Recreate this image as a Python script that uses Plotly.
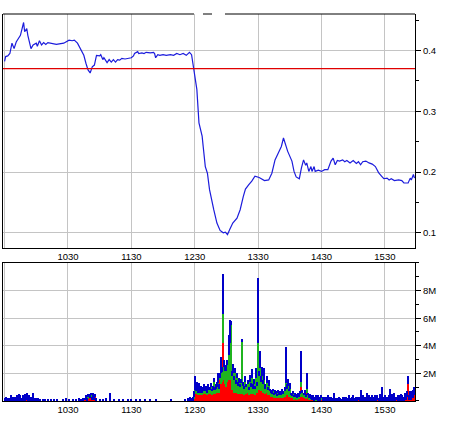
import pandas as pd
import plotly.graph_objects as go

SESSION_DATE = "2009-03-12"
OPEN_TIME = "09:30"

# ---- price (minutes after the open, price) ----
PRICE_MIN = [0, 1, 3, 5, 7, 9, 11, 13, 15, 18, 19, 21, 22, 25, 27, 30, 31, 33, 35, 37,
             39, 41, 45, 49, 56, 59, 61, 64, 66, 69, 71, 75, 77, 79, 81, 83, 85, 87, 90, 91,
             93, 94, 97, 99, 101, 103, 105, 107, 109, 111, 114, 117, 120, 122, 123, 126, 127, 130, 132, 134,
             138, 141, 142, 143, 145, 147, 150, 153, 157, 160, 163, 166, 169, 172, 175, 177, 179, 182, 184, 187,
             188, 190, 192, 194, 198, 201, 204, 207, 209, 211, 213, 216, 220, 223, 226, 228, 231, 234, 237, 241,
             246, 250, 253, 256, 259, 262, 264, 266, 268, 272, 274, 276, 279, 281, 283, 285, 286, 288, 290, 291,
             293, 294, 297, 300, 303, 306, 309, 311, 313, 315, 317, 320, 322, 324, 327, 330, 333, 335, 337, 339,
             342, 345, 348, 351, 354, 357, 359, 362, 364, 366, 369, 373, 376, 378, 382, 384, 385, 387, 388]
PRICE = [0.382, 0.390, 0.391, 0.395, 0.412, 0.403, 0.414, 0.420, 0.425, 0.446, 0.431, 0.436, 0.425, 0.403, 0.409, 0.412, 0.407, 0.416, 0.409, 0.413,
         0.410, 0.413, 0.412, 0.410, 0.412, 0.415, 0.417, 0.416, 0.417, 0.412, 0.406, 0.392, 0.379, 0.368, 0.363, 0.373, 0.376, 0.392, 0.391, 0.393,
         0.385, 0.388, 0.380, 0.385, 0.381, 0.385, 0.381, 0.385, 0.384, 0.387, 0.386, 0.387, 0.388, 0.391, 0.395, 0.398, 0.395, 0.396, 0.395, 0.397,
         0.396, 0.397, 0.395, 0.388, 0.393, 0.392, 0.393, 0.392, 0.393, 0.392, 0.395, 0.393, 0.395, 0.392, 0.397, 0.393, 0.371, 0.336, 0.281, 0.259,
         0.242, 0.209, 0.198, 0.171, 0.138, 0.116, 0.104, 0.100, 0.101, 0.097, 0.105, 0.116, 0.124, 0.138, 0.160, 0.172, 0.179, 0.185, 0.193, 0.191,
         0.186, 0.187, 0.198, 0.220, 0.231, 0.242, 0.256, 0.245, 0.234, 0.218, 0.201, 0.192, 0.189, 0.207, 0.220, 0.211, 0.215, 0.201, 0.209, 0.201,
         0.209, 0.201, 0.203, 0.201, 0.204, 0.204, 0.218, 0.223, 0.212, 0.219, 0.218, 0.220, 0.217, 0.219, 0.215, 0.219, 0.214, 0.217, 0.212, 0.217,
         0.218, 0.215, 0.213, 0.209, 0.199, 0.193, 0.189, 0.190, 0.187, 0.189, 0.186, 0.187, 0.186, 0.182, 0.182, 0.190, 0.187, 0.196, 0.190]
PREV_CLOSE = 0.37

# ---- volume, in units of 100k shares ----
VOL_UNIT = 100000
# morning: sparse minutes
AM_MIN = [0, 1, 2, 3, 4, 5, 6, 7, 8, 9, 10, 11, 12, 13, 14, 15, 16, 17, 18, 19, 20, 21, 22, 23, 24, 25, 26, 27, 28, 29, 30, 31, 32,
          34, 36, 38, 41, 44, 47, 50, 55, 58, 61, 65, 68, 70, 72, 74,
          76, 77, 78, 79, 80, 81, 82, 83, 84, 85, 86, 87,
          90, 93, 96, 100, 104, 108, 112, 117, 120, 124, 128, 133, 138, 143, 158, 171, 174, 176, 177, 178]
AM_RED = [0, 0, 0, 1, 0, 0, 0, 0, 1, 0, 0, 0, 1, 0, 0, 1, 0, 0, 1, 0, 1, 1, 0, 0, 0, 0, 0, 1, 0, 0, 0, 0, 0,
          0, 0, 0, 0, 0, 0, 0, 0, 0, 0, 0, 0, 0, 0, 0,
          1, 2, 0, 2, 3, 2, 3, 1, 2, 1, 3, 0,
          0, 0, 0, 0, 0, 0, 0, 0, 0, 0, 0, 0, 0, 0, 0, 0, 0, 0, 0, 0]
AM_GREEN = [0, 0, 0, 0, 0, 0, 0, 0, 0, 0, 0, 0, 0, 0, 0, 0, 0, 0, 0, 0, 0, 0, 0, 0, 0, 0, 0, 0, 0, 0, 0, 0, 0,
            0, 0, 0, 0, 0, 0, 0, 0, 0, 0, 0, 0, 0, 0, 0,
            0, 0, 0, 1, 0, 0, 1, 0, 0, 0, 0, 0,
            0, 0, 0, 0, 0, 0, 0, 0, 0, 0, 0, 0, 0, 0, 0, 0, 0, 0, 0, 0]
AM_BLUE = [2, 3, 2, 1, 2, 1, 4, 3, 2, 3, 2, 3, 3, 4, 5, 3, 2, 4, 3, 5, 3, 5, 3, 4, 2, 3, 2, 5, 2, 1, 2, 1, 2,
           1, 1, 1, 1, 1, 1, 1, 1, 2, 1, 1, 1, 2, 1, 2,
           1, 2, 2, 2, 1, 3, 2, 2, 4, 3, 2, 2,
           1, 1, 2, 6, 1, 1, 1, 1, 1, 1, 1, 1, 1, 1, 1, 1, 2, 3, 2, 3]
# afternoon: every minute from PM_START
PM_START = 179
PM_RED = [2, 5, 5, 6, 5, 6, 5, 6, 4, 5,
          5, 5, 6, 4, 5, 5, 6, 4, 5, 6,
          5, 6, 6, 7, 6, 15, 12, 14, 42, 15,
          12, 10, 14, 15, 18, 15, 8, 8, 6, 8,
          6, 7, 5, 6, 5, 5, 8, 5, 4, 6,
          5, 6, 4, 6, 5, 7, 5, 6, 4, 8,
          6, 12, 8, 10, 7, 8, 6, 7, 5, 6,
          4, 5, 4, 3, 3, 3, 2, 3, 2, 2,
          3, 2, 2, 2, 3, 2, 3, 5, 4, 5,
          3, 4, 2, 2, 2, 1, 2, 2, 1, 2,
          2, 3, 10, 3, 2, 3, 2, 6, 2, 1,
          2, 1, 1, 1, 0, 1, 0, 1, 0, 1,
          0, 1, 0, 1, 0, 1, 0, 1, 0, 0,
          1, 0, 1, 0, 0, 1, 0, 0, 1, 0,
          0, 1, 0, 0, 1, 0, 0, 1, 0, 0,
          1, 0, 0, 1, 0, 0, 1, 0, 1, 0,
          1, 0, 1, 0, 1, 0, 1, 0, 1, 0,
          1, 0, 1, 0, 1, 0, 1, 0, 1, 0,
          1, 0, 1, 0, 1, 0, 2, 0, 1, 0,
          1, 0, 1, 0, 1, 0, 2, 0, 1, 0,
          2, 1, 3, 12, 1, 2, 1, 3, 2, 4]
PM_GREEN = [1, 3, 2, 2, 1, 3, 1, 2, 2, 2,
            4, 2, 2, 2, 3, 3, 4, 3, 3, 8,
            3, 3, 4, 6, 3, 2, 8, 7, 21, 10,
            10, 12, 12, 18, 24, 40, 10, 12, 9, 12,
            6, 10, 6, 7, 5, 8, 35, 6, 5, 8,
            5, 6, 4, 8, 5, 10, 4, 6, 5, 9,
            5, 30, 10, 14, 7, 10, 6, 8, 4, 7,
            4, 6, 3, 3, 2, 4, 2, 3, 3, 2,
            3, 2, 3, 2, 3, 3, 4, 8, 5, 6,
            4, 5, 2, 2, 3, 2, 2, 1, 1, 2,
            1, 2, 4, 3, 2, 2, 1, 3, 2, 1,
            1, 1, 0, 1, 0, 0, 1, 0, 0, 0,
            0, 1, 0, 0, 0, 0, 0, 0, 0, 0,
            0, 0, 0, 0, 0, 0, 0, 0, 0, 0,
            0, 0, 0, 0, 0, 0, 0, 0, 0, 0,
            0, 0, 0, 0, 0, 0, 0, 0, 0, 0,
            0, 0, 0, 0, 0, 0, 0, 0, 0, 0,
            0, 0, 1, 0, 0, 0, 0, 0, 0, 0,
            0, 0, 0, 0, 0, 0, 0, 0, 0, 0,
            0, 0, 0, 0, 0, 0, 0, 0, 0, 0,
            0, 0, 0, 0, 0, 0, 0, 0, 0, 0]
PM_BLUE = [4, 10, 5, 6, 4, 4, 3, 3, 2, 3,
           3, 2, 3, 2, 4, 2, 3, 2, 3, 3,
           2, 3, 4, 7, 3, 3, 12, 4, 29, 5,
           3, 4, 4, 15, 17, 3, 4, 7, 3, 4,
           3, 3, 3, 4, 2, 3, 2, 3, 2, 4,
           2, 3, 2, 5, 3, 6, 3, 4, 2, 7,
           3, 47, 4, 12, 4, 7, 3, 9, 3, 5,
           2, 4, 2, 2, 2, 2, 2, 2, 2, 1,
           2, 2, 2, 2, 3, 2, 3, 26, 3, 5,
           2, 4, 2, 1, 2, 1, 2, 2, 2, 2,
           2, 2, 22, 2, 2, 3, 2, 11, 2, 2,
           2, 1, 3, 2, 3, 2, 3, 2, 4, 2,
           3, 2, 3, 1, 3, 2, 2, 3, 2, 3,
           2, 2, 1, 6, 2, 1, 2, 1, 2, 2,
           1, 2, 3, 1, 2, 2, 1, 3, 2, 1,
           2, 4, 2, 1, 3, 2, 2, 3, 7, 2,
           3, 2, 2, 3, 5, 2, 3, 2, 2, 4,
           2, 3, 2, 2, 3, 2, 4, 3, 9, 3,
           2, 4, 2, 3, 2, 4, 7, 3, 4, 2,
           5, 3, 2, 4, 3, 2, 3, 4, 2, 3,
           4, 3, 4, 6, 3, 5, 4, 4, 6, 6]

X_TICKS_FROM = "10:30"

# ---- build ----
t0 = pd.Timestamp(f"{SESSION_DATE} {OPEN_TIME}")
px = t0 + pd.to_timedelta(PRICE_MIN, unit="min")

pm_min = [PM_START + i for i in range(len(PM_BLUE))]
vmin = AM_MIN + pm_min
vx = t0 + pd.to_timedelta(vmin, unit="min")
vred = [v * VOL_UNIT for v in AM_RED + PM_RED]
vgreen = [v * VOL_UNIT for v in AM_GREEN + PM_GREEN]
vblue = [v * VOL_UNIT for v in AM_BLUE + PM_BLUE]

x_range = [t0 - pd.Timedelta(seconds=90), t0 + pd.Timedelta(minutes=388, seconds=30)]
tick0 = pd.Timestamp(f"{SESSION_DATE} {X_TICKS_FROM}")

FONT = dict(family="Liberation Sans, Arial, sans-serif", size=9.5, color="black")
GRID = "#c4c4c4"

fig = go.Figure()
fig.add_trace(go.Scatter(x=px, y=PRICE, mode="lines", line=dict(color="#1c1cdc", width=1.2),
                         xaxis="x", yaxis="y", showlegend=False, hoverinfo="skip"))
for vals, col in ((vred, "#ff0000"), (vgreen, "#1fb41f"), (vblue, "#0000c8")):
    fig.add_trace(go.Bar(x=vx, y=vals, width=60000, marker=dict(color=col, line=dict(width=0)),
                         xaxis="x2", yaxis="y2", showlegend=False, hoverinfo="skip"))

xcommon = dict(type="date", range=x_range, tick0=tick0, dtick=3600000, tickformat="%H%M",
               showgrid=True, gridcolor=GRID, gridwidth=1, showline=True, linecolor="black",
               linewidth=1, ticks="", tickfont=FONT, zeroline=False)

fig.update_layout(
    width=460, height=430,
    margin=dict(l=3, r=45, t=14, b=29),
    paper_bgcolor="white", plot_bgcolor="white",
    barmode="stack", bargap=0,
    font=FONT,
    xaxis=dict(**xcommon, anchor="y", domain=[0, 1], mirror=False),
    yaxis=dict(domain=[0.3953, 1], side="right", range=[0.075, 0.46], dtick=0.1, tick0=0,
               showgrid=True, gridcolor=GRID, showline=True, linecolor="black", mirror=True,
               ticks="outside", ticklen=5, tickcolor="black", tickfont=FONT, zeroline=False,
               minor=dict(dtick=0.05, tick0=0, ticks="outside", ticklen=3, tickcolor="black", showgrid=False)),
    xaxis2=dict(**xcommon, anchor="y2", domain=[0, 1], mirror=True),
    yaxis2=dict(domain=[0, 0.3566], side="right", range=[0, 1e7],
                tickvals=[2e6, 4e6, 6e6, 8e6], tickformat="~s",
                showgrid=True, gridcolor=GRID, showline=True, linecolor="black", mirror=True,
                ticks="outside", ticklen=5, tickcolor="black", tickfont=FONT, zeroline=False,
                minor=dict(dtick=1e6, tick0=0, ticks="outside", ticklen=3, tickcolor="black", showgrid=False)),
    shapes=[
        dict(type="line", xref="x domain", yref="y", x0=0, x1=1, y0=PREV_CLOSE, y1=PREV_CLOSE,
             line=dict(color="#e00000", width=1.2), layer="above"),
        dict(type="line", xref="paper", yref="paper", x0=0, x1=0.4636, y0=1, y1=1,
             line=dict(color="black", width=1)),
        dict(type="line", xref="paper", yref="paper", x0=0.4854, x1=0.5073, y0=1, y1=1,
             line=dict(color="black", width=1)),
        dict(type="line", xref="paper", yref="paper", x0=0.5388, x1=1, y0=1, y1=1,
             line=dict(color="black", width=1)),
    ],
)

fig.write_html("out.html", config={"displayModeBar": False},
               post_script="document.body.style.margin='0';")
